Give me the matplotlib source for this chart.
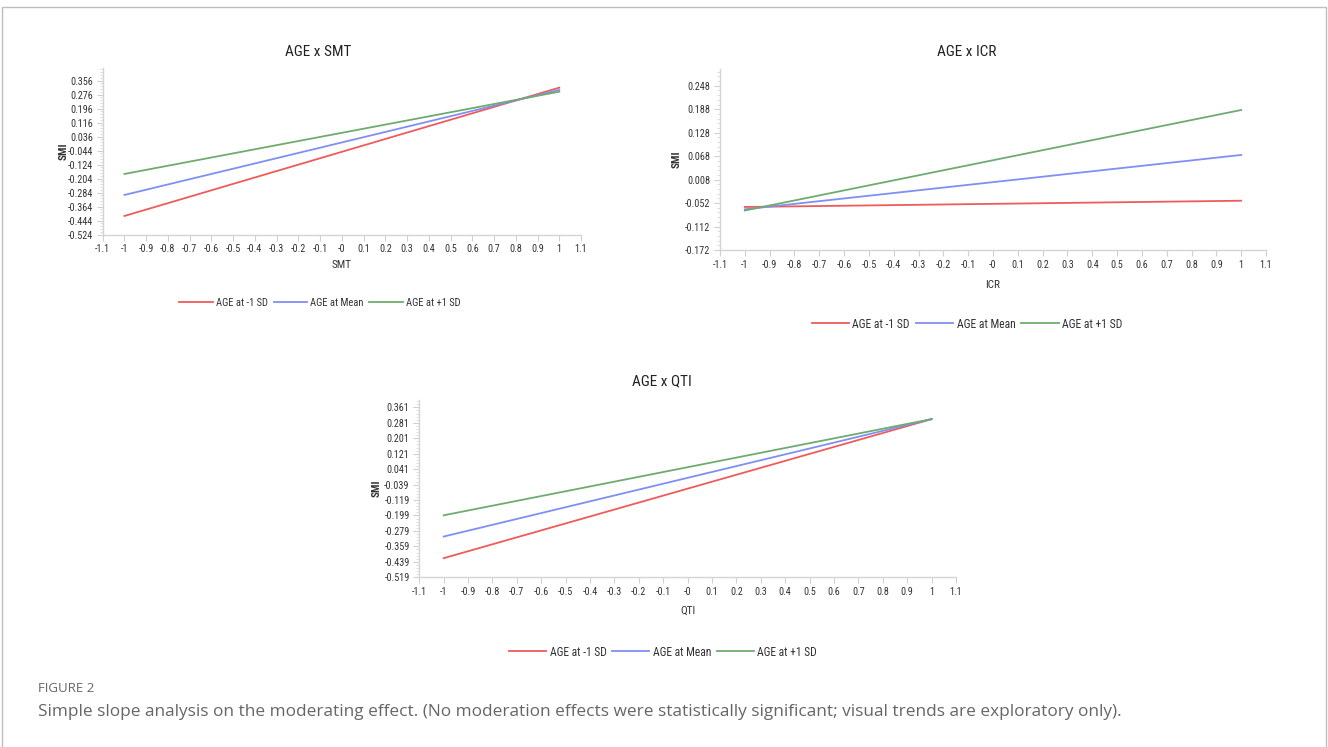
import matplotlib
matplotlib.use("Agg")
import matplotlib.pyplot as plt
from matplotlib.ticker import AutoMinorLocator, FixedLocator
from matplotlib.patches import Rectangle

plt.rcParams["font.family"] = ["Roboto Condensed", "Liberation Sans Narrow", "Liberation Sans", "DejaVu Sans"]

# Data (predicted SMI at -1 and +1 of each predictor)
x_vals = [-1, 1]

smt_low = [-0.417, 0.316]
smt_mean = [-0.297, 0.303]
smt_high = [-0.177, 0.293]

icr_low = [-0.062, -0.046]
icr_mean = [-0.068, 0.071]
icr_high = [-0.071, 0.186]

qti_low = [-0.420, 0.300]
qti_mean = [-0.308, 0.300]
qti_high = [-0.198, 0.300]

series_labels = ["AGE at -1 SD", "AGE at Mean", "AGE at +1 SD"]
x_ticks = [-1.1, -1, -0.9, -0.8, -0.7, -0.6, -0.5, -0.4, -0.3, -0.2, -0.1,
           0, 0.1, 0.2, 0.3, 0.4, 0.5, 0.6, 0.7, 0.8, 0.9, 1, 1.1]
x_tick_labels = ["-1.1", "-1", "-0.9", "-0.8", "-0.7", "-0.6", "-0.5", "-0.4",
                 "-0.3", "-0.2", "-0.1", "-0", "0.1", "0.2", "0.3", "0.4", "0.5",
                 "0.6", "0.7", "0.8", "0.9", "1", "1.1"]
smt_yticks = [0.356, 0.276, 0.196, 0.116, 0.036, -0.044, -0.124, -0.204,
              -0.284, -0.364, -0.444, -0.524]
icr_yticks = [0.248, 0.188, 0.128, 0.068, 0.008, -0.052, -0.112, -0.172]
qti_yticks = [0.361, 0.281, 0.201, 0.121, 0.041, -0.039, -0.119, -0.199,
              -0.279, -0.359, -0.439, -0.519]

colors = ["#ef5b5b", "#7f8ff2", "#6fab6f"]

W, H = 1328, 747
fig = plt.figure(figsize=(W / 100, H / 100), dpi=100)

# thin frame around the whole figure
fig.patches.append(Rectangle((2 / W, -0.05), (W - 4) / W, 1.05 - 7 / H,
                             transform=fig.transFigure, fill=False,
                             edgecolor="#bdbdbd", linewidth=1.0))


def px_axes(left, right, top, bottom):
    return fig.add_axes([left / W, 1 - bottom / H, (right - left) / W, (bottom - top) / H])


def style(ax, yticks, ylim, xlabel, px_box, ylab_x, xlab_y):
    left, right, top, bottom = px_box
    ax.set_xlim(-1.1, 1.1)
    ax.set_ylim(*ylim)
    ax.xaxis.set_major_locator(FixedLocator(x_ticks))
    ax.set_xticklabels(x_tick_labels)
    ax.set_yticks(yticks)
    ax.set_yticklabels([f"{v:.3f}" for v in yticks])
    ax.yaxis.set_minor_locator(AutoMinorLocator(5))
    for s in ["top", "right"]:
        ax.spines[s].set_visible(False)
    for s in ["left", "bottom"]:
        ax.spines[s].set_color("#d4d4d4")
        ax.spines[s].set_linewidth(1.0)
    ax.tick_params(axis="both", which="major", labelsize=7.3, colors="#d0d0d0",
                   labelcolor="#333333", length=4, width=0.8, pad=3)
    ax.tick_params(axis="y", which="minor", colors="#d8d8d8", length=2, width=0.6)
    ax.tick_params(axis="x", pad=3)
    ax.set_xlabel(xlabel, fontsize=8, color="#333333")
    ax.set_ylabel("SMI", fontsize=8, color="#333333", fontweight="bold")
    # place axis labels at the pixel positions seen in the figure
    ax.yaxis.set_label_coords((ylab_x + 5 - left) / (right - left), 0.5)
    ax.xaxis.set_label_coords(0.5, -(xlab_y - 5 - bottom) / (bottom - top))


def draw(ax, low, mean, high):
    for vals, c, lab in zip([low, mean, high], colors, series_labels):
        ax.plot(x_vals, vals, color=c, linewidth=1.3, label=lab)


def legend(ax, cx, cy, fs):
    fig.legend(*ax.get_legend_handles_labels(), loc="center", bbox_to_anchor=(cx / W, 1 - cy / H),
               ncol=3, frameon=False, fontsize=fs, handlelength=3.2, handletextpad=0.3,
               columnspacing=0.5, labelcolor="#333333")


# Panel 1: AGE x SMT
box1 = (102.7, 581, 67.7, 234.7)
ax1 = px_axes(*box1)
draw(ax1, smt_low, smt_mean, smt_high)
style(ax1, smt_yticks, (-0.524, 0.43), "SMT", box1, 64, 265)
fig.text(318 / W, 1 - 52 / H, "AGE x SMT", ha="center", va="center", fontsize=11, color="#222222")
legend(ax1, 320, 303, 7.6)

# Panel 2: AGE x ICR
box2 = (720, 1266, 69.3, 250)
ax2 = px_axes(*box2)
draw(ax2, icr_low, icr_mean, icr_high)
style(ax2, icr_yticks, (-0.172, 0.29), "ICR", box2, 677, 285)
fig.text(967 / W, 1 - 52 / H, "AGE x ICR", ha="center", va="center", fontsize=11, color="#222222")
legend(ax2, 967, 324, 8.4)

# Panel 3: AGE x QTI
box3 = (419.3, 956, 399.8, 577.3)
ax3 = px_axes(*box3)
draw(ax3, qti_low, qti_mean, qti_high)
style(ax3, qti_yticks, (-0.519, 0.40), "QTI", box3, 377, 611)
fig.text(662 / W, 1 - 381 / H, "AGE x QTI", ha="center", va="center", fontsize=11, color="#222222")
legend(ax3, 663, 652, 8.3)

# Caption
fig.text(38 / W, 1 - 688 / H, "FIGURE 2", ha="left", va="center", fontsize=9.5,
         color="#666666", family=["Open Sans", "DejaVu Sans"])
fig.text(38 / W, 1 - 712 / H,
         "Simple slope analysis on the moderating effect. (No moderation effects were statistically "
         "significant; visual trends are exploratory only).",
         ha="left", va="center", fontsize=12.4, color="#666666", family=["Open Sans", "DejaVu Sans"])

fig.savefig("out.png", dpi=100)
